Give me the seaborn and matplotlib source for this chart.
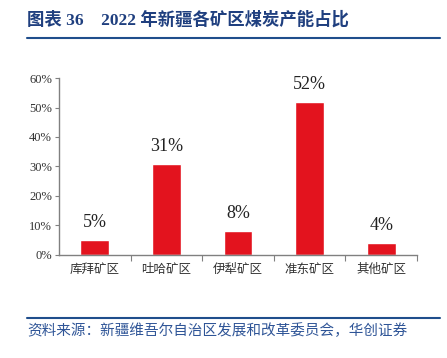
import numpy as np
import pandas as pd
import seaborn as sns
import matplotlib.pyplot as plt
from matplotlib.lines import Line2D
from matplotlib.ticker import PercentFormatter, FixedLocator

# Дані: частка потужностей вугледобування по районах (%)
districts = ['库拜矿区', '吐哈矿区', '伊犁矿区', '准东矿区', '其他矿区']
shares = [5, 31, 8, 52, 4]
share_labels = ['5%', '31%', '8%', '52%', '4%']

sns.set_theme(style='white')
plt.rcParams['font.family'] = ['Liberation Serif', 'Noto Sans CJK SC', 'DejaVu Sans']

df = pd.DataFrame({'district': districts, 'share': shares})

fig = plt.figure(figsize=(4.47, 3.58), dpi=100)
ax = fig.add_axes([0.132, 0.288, 0.801, 0.494])

sns.barplot(data=df, x='district', y='share', color='#E3131E', saturation=1,
            width=0.4, ax=ax)

# підписи над стовпцями
for i, (v, lab) in enumerate(zip(shares, share_labels)):
    ax.text(i, v + 3, lab, ha='center', va='bottom', fontsize=13,
            family='Liberation Serif', color='#222222')

ax.set_ylim(0, 60)
ax.set_xlim(-0.5, 4.5)
ax.set_yticks(np.arange(0, 61, 10))
ax.yaxis.set_major_formatter(PercentFormatter(decimals=0))
ax.set_xlabel('')
ax.set_ylabel('')

for s in ['top', 'right']:
    ax.spines[s].set_visible(False)
for s in ['left', 'bottom']:
    ax.spines[s].set_color('#808080')
    ax.spines[s].set_linewidth(1.0)

ax.tick_params(axis='y', which='major', left=True, length=3, width=0.8,
               color='#808080', labelsize=9, pad=2, labelcolor='#333333')
ax.tick_params(axis='x', which='major', bottom=False, length=0, pad=6,
               labelsize=9, labelcolor='#333333')
ax.xaxis.set_minor_locator(FixedLocator([0.5, 1.5, 2.5, 3.5, 4.5]))
ax.tick_params(axis='x', which='minor', bottom=True, length=4, width=0.8,
               color='#808080')
for t in ax.get_xticklabels():
    t.set_family(['Noto Sans CJK SC'])

# заголовок і лінії
fig.text(0.06, 0.945, '图表 36    2022 年新疆各矿区煤炭产能占比', fontsize=12.5,
         fontweight='bold', color='#1F3F7F', ha='left', va='center')
fig.add_artist(Line2D([0.06, 0.985], [0.895, 0.895], color='#1F4E8C',
                      lw=1.5, transform=fig.transFigure))
fig.add_artist(Line2D([0.06, 0.985], [0.112, 0.112], color='#1F4E8C',
                      lw=1.5, transform=fig.transFigure))
fig.text(0.062, 0.076, '资料来源：新疆维吾尔自治区发展和改革委员会，华创证券',
         fontsize=10.5, color='#2F5597', style='italic', ha='left', va='center',
         family=['Noto Sans CJK SC'])

fig.savefig('out.png', dpi=100)
